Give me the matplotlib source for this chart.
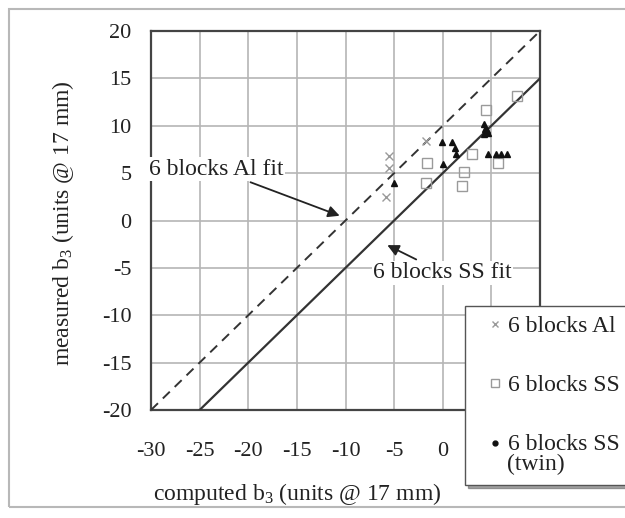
import matplotlib
matplotlib.use('Agg')
import matplotlib.pyplot as plt
from matplotlib.patches import Rectangle
from matplotlib.legend_handler import HandlerLine2D
import numpy as np

plt.rcParams['font.family'] = ['Liberation Serif', 'DejaVu Serif']
plt.rcParams['axes.unicode_minus'] = False
plt.rcParams['mathtext.fontset'] = 'custom'
plt.rcParams['mathtext.rm'] = 'Liberation Serif'
plt.rcParams['mathtext.it'] = 'Liberation Serif'

# measured vs computed b3 (units @ 17 mm)
al_x = [-5.5, -5.5, -5.8, -1.7]
al_y = [6.8, 5.5, 2.5, 8.4]
ss_x = [7.6, 4.4, 3.0, 5.7, -1.6, 2.2, -1.7, 2.0]
ss_y = [13.1, 11.7, 7.0, 6.1, 6.1, 5.1, 4.0, 3.6]
twin_x = [-5.0, -0.1, 1.0, 1.3, 1.4, 0.0, 4.2, 4.3, 4.7, 4.2, 4.6, 4.7, 5.5, 6.0, 6.6]
twin_y = [4.0, 8.3, 8.3, 7.7, 7.0, 6.0, 10.2, 9.7, 9.2, 9.1, 9.5, 7.0, 7.0, 7.0, 7.0]

# fit lines (slope 1)
al_fit_x = [-30, 10]
al_fit_y = [-20, 20]
ss_fit_x = [-25, 10]
ss_fit_y = [-20, 15]

xticks = [-30, -25, -20, -15, -10, -5, 0, 5, 10]
yticks = [-20, -15, -10, -5, 0, 5, 10, 15, 20]

fig = plt.figure(figsize=(6.25, 5.18), dpi=100)
fig.patch.set_facecolor('white')
fig.patches.append(Rectangle((9/625, 1-507/518), 1.2, (507-9)/518, transform=fig.transFigure,
                             fill=False, edgecolor='#b8b8b8', lw=1.5, zorder=0))
ax = fig.add_axes([151/625, 1-410/518, 389/625, 379/518])

ax.plot(al_fit_x, al_fit_y, color='#333333', lw=1.4, ls=(0, (5, 3.5)), zorder=3)
ax.plot(ss_fit_x, ss_fit_y, color='#333333', lw=1.6, zorder=3)

ax.plot(al_x, al_y, 'x', color='#9a9a9a', ms=6, mew=1.0, ls='none', label='6 blocks Al', zorder=4)
ax.plot(ss_x, ss_y, 's', mfc='none', mec='#9a9a9a', ms=7, mew=1.0, ls='none', label='6 blocks SS', zorder=4)
ax.plot(twin_x, twin_y, '^', color='#111111', ms=5, ls='none', label='6 blocks SS\n(twin)', zorder=5)

ax.set_xlim(-30, 10)
ax.set_ylim(-20, 20)
ax.set_xticks(xticks)
ax.set_yticks(yticks)
ax.grid(True, color='#b5b5b5', lw=1.2)
ax.set_axisbelow(True)
ax.tick_params(length=0, labelsize=16, colors='#222222')
ax.tick_params(axis='x', pad=23)
ax.tick_params(axis='y', pad=14)
for s in ax.spines.values():
    s.set_color('#444444')
    s.set_linewidth(1.6)

ax.set_xlabel('computed b$_3$ (units @ 17 mm)', fontsize=17, color='#222222')
ax.set_ylabel('measured b$_3$ (units @ 17 mm)', fontsize=17, color='#222222')
ax.xaxis.set_label_coords((297-151)/389, (410-481)/379)
ax.yaxis.set_label_coords((76-151)/389, (410-223)/379)

ax.annotate('6 blocks Al fit', xy=(-10.6, 0.5), xytext=(-23.3, 5.4), fontsize=17, color='#222222',
            ha='center', va='center',
            bbox=dict(fc='white', ec='none', pad=1),
            arrowprops=dict(arrowstyle='-|>', color='#222222', lw=1.3, shrinkA=2, shrinkB=0))
ax.annotate('6 blocks SS fit', xy=(-5.7, -2.6), xytext=(0.0, -5.5), fontsize=17, color='#222222',
            ha='center', va='center',
            bbox=dict(fc='white', ec='none', pad=1),
            arrowprops=dict(arrowstyle='-|>', color='#222222', lw=1.3, shrinkA=2, shrinkB=0))


def leg_al(h, orig):
    h.update_from(orig)
    h.set_markersize(5)


def leg_ss(h, orig):
    h.update_from(orig)
    h.set_markersize(5.5)


def leg_twin(h, orig):
    h.update_from(orig)
    h.set_marker('o')
    h.set_markersize(3.5)
    h.set_ydata(np.asarray(h.get_ydata()) + 8)


handles, labels = ax.get_legend_handles_labels()
leg = ax.legend(handles, labels, loc='upper left', bbox_to_anchor=(465/625, 1-306/518),
                bbox_transform=fig.transFigure, borderaxespad=0,
                fontsize=17, frameon=True, fancybox=False, shadow=True, labelspacing=1.6,
                handlelength=1.7, handletextpad=-0.3, borderpad=0.4,
                handler_map={handles[0]: HandlerLine2D(update_func=leg_al),
                             handles[1]: HandlerLine2D(update_func=leg_ss),
                             handles[2]: HandlerLine2D(update_func=leg_twin)})
leg.get_frame().set_edgecolor('#555555')
leg.get_frame().set_linewidth(1.0)
leg.set_zorder(10)
for t in leg.get_texts():
    t.set_color('#222222')
leg.get_texts()[2].set_linespacing(0.95)

fig.savefig('out.png', dpi=100)
